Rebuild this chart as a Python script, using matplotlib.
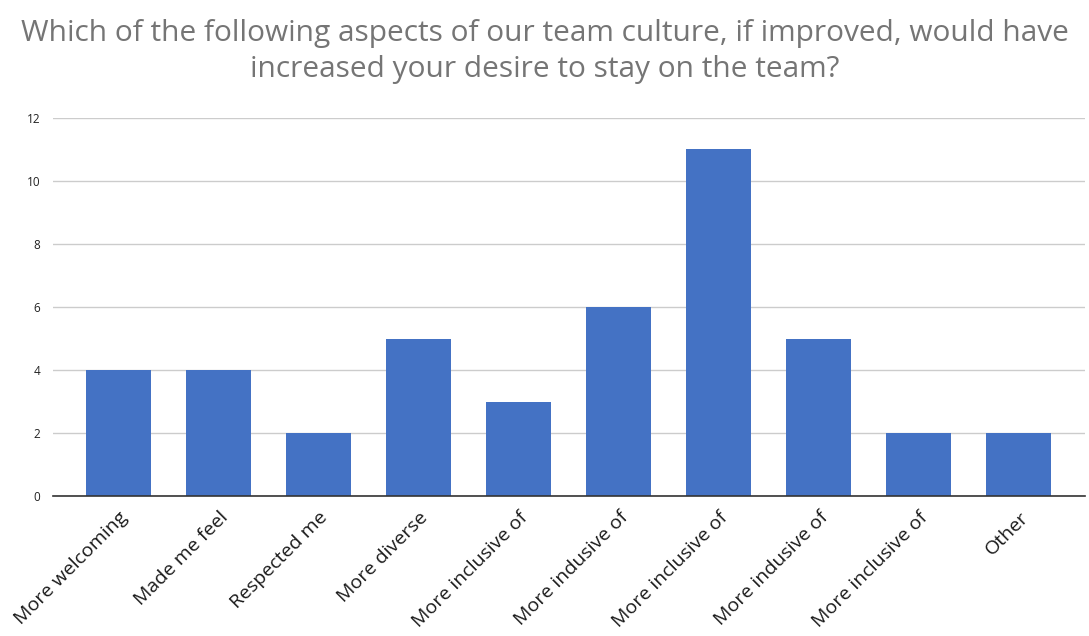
import matplotlib
matplotlib.use('Agg')
import matplotlib.pyplot as plt

# Survey answers and response counts
categories = ['More welcoming', 'Made me feel', 'Respected me', 'More diverse',
              'More inclusive of', 'More indusive of', 'More inclusive of',
              'More indusive of', 'More inclusive of', 'Other']
counts = [4, 4, 2, 5, 3, 6, 11, 5, 2, 2]
y_ticks = [0, 2, 4, 6, 8, 10, 12]

plt.rcParams['font.family'] = ['Open Sans', 'DejaVu Sans']

fig = plt.figure(figsize=(10.89, 6.36), dpi=100)
ax = fig.add_axes([0.0487, 0.2201, 0.9476, 0.5944])

x = list(range(len(categories)))
ax.bar(x, counts, width=0.65, color='#4472C4', zorder=3)

ax.set_xlim(-0.655, 9.66)
ax.set_ylim(0, 12)
ax.set_yticks(y_ticks)
ax.set_yticklabels([str(v) for v in y_ticks], fontsize=8.5, color='#222222')
ax.set_xticks(x)
ax.set_xticklabels(categories, rotation=45, ha='right', va='top', rotation_mode='anchor',
                   fontsize=14, color='#1a1a1a')

ax.grid(axis='y', color='#cccccc', linewidth=1, zorder=0)
for s in ['top', 'right', 'left']:
    ax.spines[s].set_visible(False)
ax.spines['bottom'].set_color('#333333')
ax.spines['bottom'].set_linewidth(1.2)
ax.spines['bottom'].set_zorder(4)
ax.tick_params(axis='both', length=0)
ax.tick_params(axis='y', pad=9)
ax.tick_params(axis='x', pad=9)

fig.text(0.5, 0.919, 'Which of the following aspects of our team culture, if improved, would have\n'
         'increased your desire to stay on the team?',
         ha='center', va='center', fontsize=21.5, color='#757575', linespacing=1.35)

fig.savefig('out.png', dpi=100)
